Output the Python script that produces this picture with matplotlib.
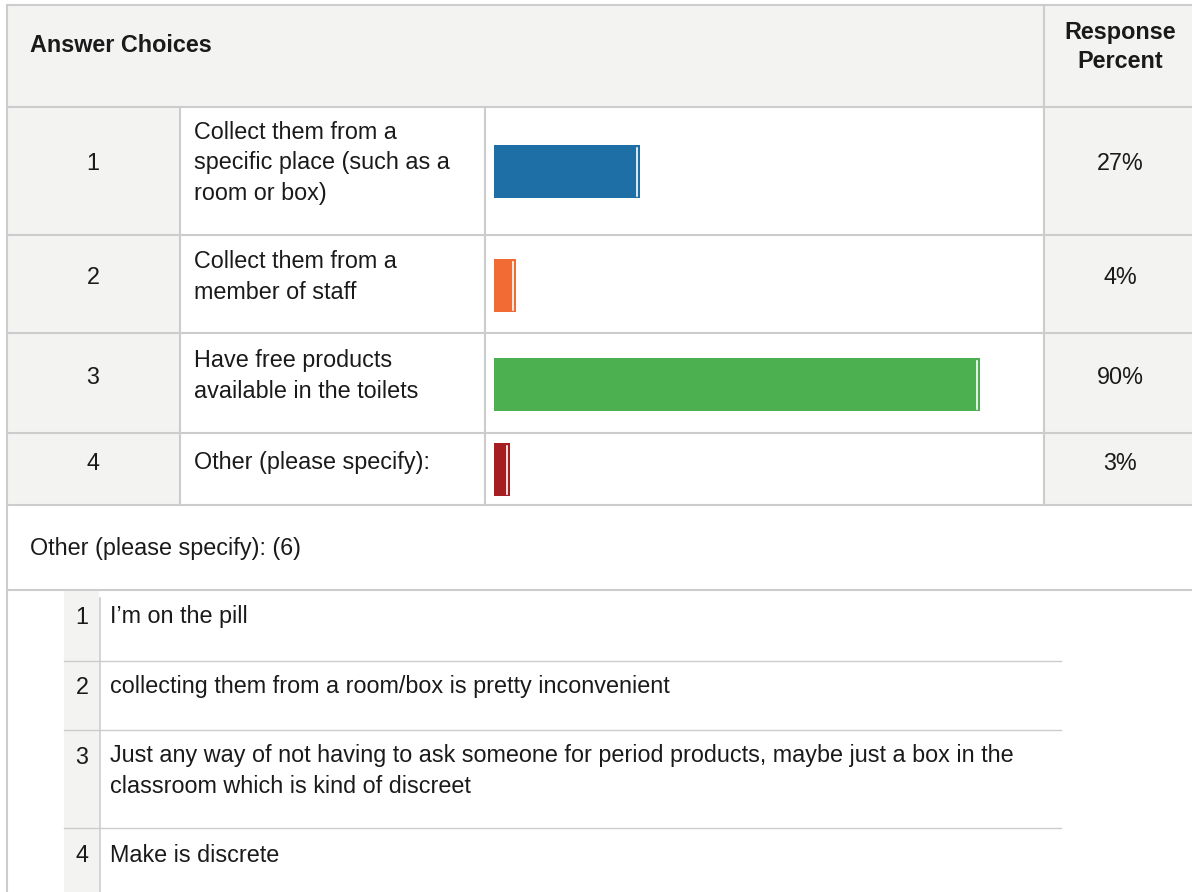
import matplotlib.pyplot as plt
from matplotlib.patches import Rectangle
import matplotlib.transforms as mtransforms

# Data
choice_numbers = ["1", "2", "3", "4"]
choice_labels = [
    "Collect them from a\nspecific place (such as a\nroom or box)",
    "Collect them from a\nmember of staff",
    "Have free products\navailable in the toilets",
    "Other (please specify):",
]
response_percent = [27, 4, 90, 3]
bar_colors = ["#1d6fa5", "#f26b35", "#4caf50", "#a51e22"]
header_left = "Answer Choices"
header_right = "Response\nPercent"
other_title = "Other (please specify): (6)"
other_numbers = ["1", "2", "3", "4"]
other_responses = [
    "I\u2019m on the pill",
    "collecting them from a room/box is pretty inconvenient",
    "Just any way of not having to ask someone for period products, maybe just a box in the\nclassroom which is kind of discreet",
    "Make is discrete",
]

plt.rcParams['font.family'] = ['Liberation Sans', 'DejaVu Sans']
W, H = 1192, 892
GRID = "#cccccc"
SHADE = "#f3f3f2"
TXT = "#1a1a1a"
FS = 16.8
LS = 1.44

fig = plt.figure(figsize=(W / 100, H / 100), dpi=100)
ax = fig.add_axes([0, 0, 1, 1])
ax.set_xlim(0, W)
ax.set_ylim(H, 0)
ax.axis('off')

# layout (pixels)
row_edges = [107, 235, 333, 433, 505]
bar_centers = [171.5, 285.5, 384.5, 469.5]
label_y = [163, 277, 376, 463]
pct_y = [163, 277, 378, 463]
other_edges = [590, 661, 730, 828, H]
other_text_y = [617, 687, 771, 855]
other_num_y = [617, 687, 757, 855]

# shaded backgrounds
ax.add_patch(Rectangle((7, 5), W - 7, row_edges[0] - 5, color=SHADE, lw=0))
ax.add_patch(Rectangle((7, row_edges[0]), 173, row_edges[-1] - row_edges[0], color=SHADE, lw=0))
ax.add_patch(Rectangle((1044, row_edges[0]), W - 1044, row_edges[-1] - row_edges[0], color=SHADE, lw=0))
ax.add_patch(Rectangle((64, other_edges[0]), 35, H - other_edges[0], color=SHADE, lw=0))

# grid lines
thick = 1.5
for y in [5] + row_edges + [590]:
    ax.plot([7, W], [y, y], color=GRID, lw=thick, solid_capstyle='butt')
ax.plot([7, 7], [5, H], color=GRID, lw=thick)
ax.plot([1044, 1044], [5, row_edges[-1]], color=GRID, lw=thick)
for x in [180, 485]:
    ax.plot([x, x], [row_edges[0], row_edges[-1]], color=GRID, lw=thick)
for y in other_edges[1:-1]:
    ax.plot([64, 1061], [y, y], color=GRID, lw=1.0)
ax.plot([100, 100], [598, H], color=GRID, lw=1.2)

# header text
ax.text(30, 46, header_left, fontsize=FS, fontweight='bold', color=TXT, va='center', ha='left')
ax.text(1120, 47, header_right, fontsize=FS, fontweight='bold', color=TXT, va='center', ha='center',
        linespacing=1.3)

# rows
for i in range(len(choice_labels)):
    ax.text(93, pct_y[i], choice_numbers[i], fontsize=FS, color=TXT, va='center', ha='center')
    ax.text(194, label_y[i], choice_labels[i], fontsize=FS, color=TXT, va='center', ha='left',
            linespacing=LS)
    ax.text(1120, pct_y[i], f"{response_percent[i]}%", fontsize=FS, color=TXT, va='center', ha='center')

# bars on their own axes: 0-100% spans 494..1034 px
bax = fig.add_axes([494 / W, 0, 540 / W, 1])
bax.set_xlim(0, 100)
bax.set_ylim(H, 0)
bax.axis('off')
bax.barh(bar_centers, response_percent, height=53, color=bar_colors, lw=0)
shift = mtransforms.offset_copy(bax.transData, fig=fig, x=-3, y=0, units='dots')
for c, p in zip(bar_centers, response_percent):
    bax.plot([p, p], [c - 24, c + 24], color='white', lw=1.2, transform=shift)

# other responses
ax.text(30, 549, other_title, fontsize=FS, color=TXT, va='center', ha='left')
for i in range(len(other_responses)):
    ax.text(82, other_num_y[i], other_numbers[i], fontsize=FS, color=TXT, va='center', ha='center')
    ax.text(110, other_text_y[i], other_responses[i], fontsize=FS, color=TXT, va='center', ha='left',
            linespacing=LS)

fig.savefig('out.png', dpi=100)
